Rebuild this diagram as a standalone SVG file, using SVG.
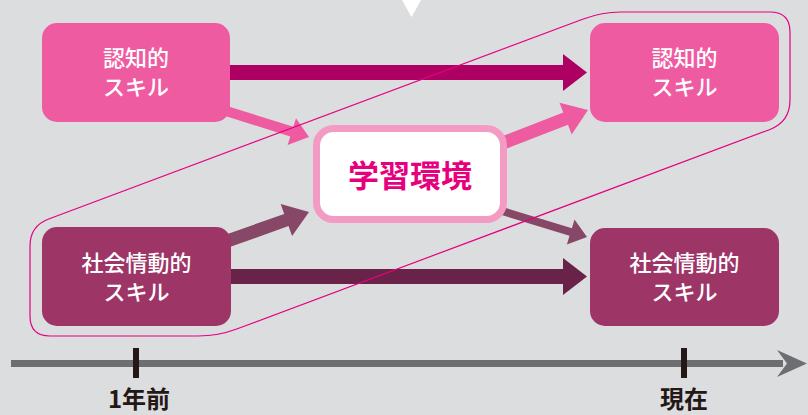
<svg xmlns="http://www.w3.org/2000/svg" width="808" height="415" viewBox="0 0 808 415">
<style>
.bg{fill:#dcdddf}
.pink{fill:#ef5ba0}
.plum{fill:#9e3567}
.nt{fill:#ffffff;font-family:"Noto Sans CJK JP","Noto Sans",sans-serif;font-size:22px;font-weight:500;text-anchor:middle}
.tl{fill:#231815;font-family:"Noto Sans CJK JP","Noto Sans",sans-serif;font-size:24px;font-weight:700;text-anchor:middle}
</style>
<rect class="bg" x="0" y="0" width="808" height="415"/>
<polygon points="402,0 421,0 411.5,17" fill="#ffffff"/>

<g id="connectors">
  <polygon points="228,65 563,65 563,54 587,72.5 563,91 563,80 228,80" fill="#ae0062"/>
  <polygon points="228,269 563,269 563,258 587,276.5 563,295 563,284 228,284" fill="#6a2348"/>
  <polygon points="227.5,106.2 293.3,126.8 296.0,118.2 309,137 287.6,145.0 290.3,136.4 224.5,115.8" fill="#ef5ba0"/>
  <polygon points="497.7,137.9 563.3,112.6 559.5,102.8 588,110 571.7,134.6 568.0,124.8 502.4,150.1" fill="#ef5ba0"/>
  <polygon points="224.0,235.2 284.2,213.9 280.7,204.0 309,212 292.1,236.0 288.5,226.1 228.4,247.5" fill="#874766"/>
  <polygon points="503.2,207.2 571.9,228.2 574.5,219.6 587,237 566.9,244.4 569.5,235.8 500.8,214.8" fill="#874766"/>
</g>

<g id="group-outline">
  <path d="M583.3,19 Q602,12 621,12 L770,12 Q790,12 790,32 L790,100 Q790,122 769.4,129.7 L236.7,329 Q218,336 198,336 L50,336 Q30,336 30,316 L30,246 Q30,226 48.7,219 Z" fill="none" stroke="#e5007f" stroke-width="1.2"/>
</g>

<g id="node-cog-past">
  <rect class="pink" x="42" y="23" width="188" height="99" rx="15"/>
  <text class="nt" x="136" y="66">認知的</text>
  <text class="nt" x="136" y="95">スキル</text>
</g>
<g id="node-cog-now">
  <rect class="pink" x="590" y="23" width="189" height="99" rx="15"/>
  <text class="nt" x="684.5" y="66">認知的</text>
  <text class="nt" x="684.5" y="95">スキル</text>
</g>
<g id="node-se-past">
  <rect class="plum" x="42" y="227" width="189" height="99" rx="15"/>
  <text class="nt" x="136.5" y="270.5">社会情動的</text>
  <text class="nt" x="136.5" y="299.5">スキル</text>
</g>
<g id="node-se-now">
  <rect class="plum" x="590" y="228" width="189" height="98" rx="15"/>
  <text class="nt" x="684.5" y="270.5">社会情動的</text>
  <text class="nt" x="684.5" y="299.5">スキル</text>
</g>
<g id="node-env">
  <rect x="316.5" y="128.5" width="187" height="91" rx="17" fill="#ffffff" stroke="#f39bc2" stroke-width="7"/>
  <text x="410" y="187" fill="#e6007e" font-family="'Noto Sans CJK JP','Noto Sans',sans-serif" font-size="31" font-weight="700" text-anchor="middle">学習環境</text>
</g>

<g id="timeline">
  <rect x="11" y="360" width="772" height="7" fill="#6d6e71"/>
  <path d="M777,350 L807,363.5 L777,377 L787,363.5 Z" fill="#6d6e71"/>
  <rect x="133" y="348" width="6" height="30" fill="#231815"/>
  <rect x="681" y="348" width="6" height="30" fill="#231815"/>
  <text class="tl" x="139" y="408">1年前</text>
  <text class="tl" x="684" y="408">現在</text>
</g>
</svg>
